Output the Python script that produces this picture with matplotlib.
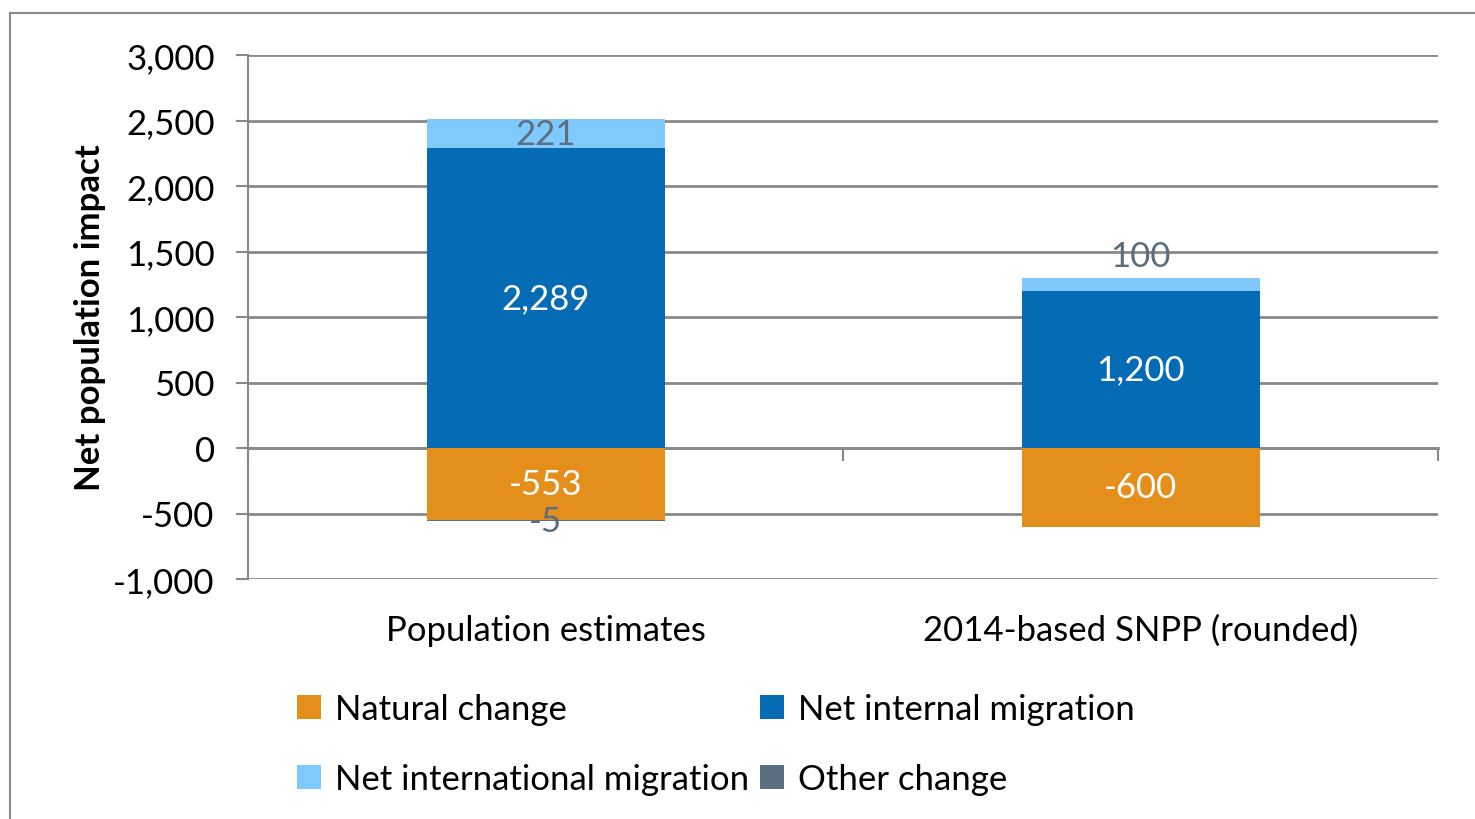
import matplotlib.pyplot as plt
from matplotlib.patches import Rectangle
from matplotlib.ticker import FuncFormatter

plt.rcParams['font.family'] = ['Lato', 'DejaVu Sans']

categories = ['Population estimates', '2014-based SNPP (rounded)']
natural_change = [-553, -600]
net_internal = [2289, 1200]
net_international = [221, 100]
other_change = [-5, 0]

series_names = ['Natural change', 'Net internal migration',
                'Net international migration', 'Other change']
colors = ['#E48F1B', '#066BB5', '#7FC9FF', '#5B6E7F']
label_colors = ['white', 'white', '#5B6E7F', '#5B6E7F']

y_ticks = [-1000, -500, 0, 500, 1000, 1500, 2000, 2500, 3000]

FS = 25

fig = plt.figure(figsize=(14.75, 8.2), dpi=100)
ax = fig.add_axes([248 / 1475, 1 - 580 / 820, 1190 / 1475, 524 / 820])

grid_col = '#898989'
x = list(range(len(categories)))
width = 0.4

# stack positives upward and negatives downward from zero
pos_base = [0.0] * len(x)
neg_base = [0.0] * len(x)
series = [natural_change, net_internal, net_international, other_change]
handles = []
for name, vals, col, lcol in zip(series_names, series, colors, label_colors):
    bottoms = []
    for i, v in enumerate(vals):
        if v >= 0:
            bottoms.append(pos_base[i])
            pos_base[i] += v
        else:
            bottoms.append(neg_base[i])
            neg_base[i] += v
    bars = ax.bar(x, vals, width, bottom=bottoms, color=col, zorder=3, label=name)
    handles.append(bars)
    for i, v in enumerate(vals):
        if v == 0:
            continue
        yc = bottoms[i] + v / 2
        dy = 0
        if name == 'Net international migration' and i == 1:
            dy = 20
        ax.annotate(f'{v:,}', (x[i], yc), xytext=(0, dy), textcoords='offset points',
                    ha='center', va='center', color=lcol, fontsize=FS, zorder=4)

ax.set_xlim(-0.5, 1.5)
ax.set_ylim(-1000, 3000)
ax.set_yticks(y_ticks)
ax.yaxis.set_major_formatter(FuncFormatter(lambda v, p: f'{int(v):,}'))
ax.tick_params(axis='y', length=9, width=1.5, color=grid_col, labelsize=FS, pad=15)
ax.grid(axis='y', color=grid_col, linewidth=2, zorder=1)
ax.set_axisbelow(True)

for s in ['top', 'right']:
    ax.spines[s].set_visible(False)
ax.spines['left'].set_color(grid_col)
ax.spines['left'].set_linewidth(1.5)
ax.spines['bottom'].set_position(('data', 0))
ax.spines['bottom'].set_color(grid_col)
ax.spines['bottom'].set_linewidth(2)
ax.set_xticks([-0.5, 0.5, 1.5])
ax.set_xticklabels([])
ax.tick_params(axis='x', length=9, width=1.5, color=grid_col, direction='out')

sec = ax.secondary_xaxis('bottom')
sec.set_xticks(x)
sec.set_xticklabels(categories, fontsize=FS)
sec.tick_params(length=0, pad=25)
sec.spines['bottom'].set_visible(False)

ax.set_ylabel('Net population impact', fontsize=FS, fontweight='bold', labelpad=5)

leg_handles = [handles[0], handles[2], handles[1], handles[3]]
leg_labels = [series_names[0], series_names[2], series_names[1], series_names[3]]
fig.legend(leg_handles, leg_labels, ncol=2, loc='upper left',
           bbox_to_anchor=(283 / 1475, 1 - 680 / 820), frameon=False, fontsize=FS,
           handlelength=0.7, handleheight=0.7, handletextpad=0.4,
           columnspacing=0.3, labelspacing=1.1, borderaxespad=0)

fig.patches.append(Rectangle((10 / 1475, -0.1), 1.2, 1 - 14 / 820 + 0.1,
                             transform=fig.transFigure, fill=False,
                             edgecolor=grid_col, linewidth=1.5))

fig.savefig('out.png', dpi=100)
